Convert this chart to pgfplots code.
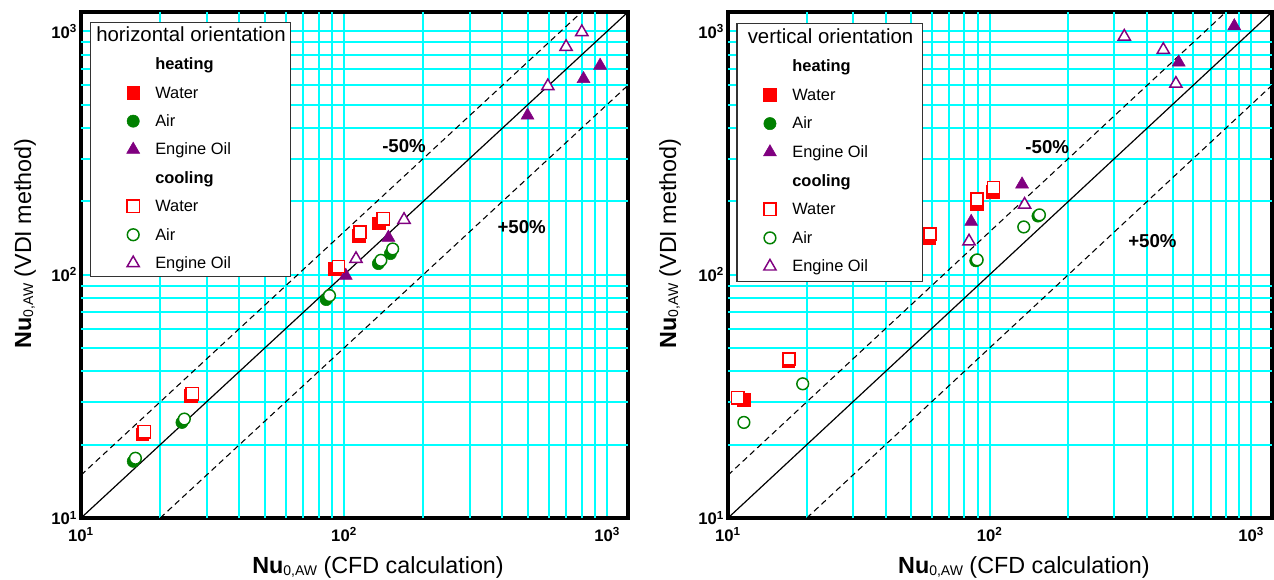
\documentclass[border=0pt]{standalone}
\usepackage{pgfplots}
\pgfplotsset{compat=1.18}
\usepackage{fontspec}
\setmainfont{Liberation Sans}
\definecolor{gridc}{RGB}{0,255,255}
\definecolor{wred}{RGB}{255,0,0}
\definecolor{agreen}{RGB}{0,128,0}
\definecolor{opurple}{RGB}{128,0,128}

\tikzset{
  mWH/.style={mark=square*, mark size=4.8pt, mark options={solid, draw=wred, fill=wred, line width=0.4pt}},
  mWC/.style={mark=square*, mark size=4.6pt, mark options={solid, draw=wred, fill=white, line width=1.1pt}},
  mAH/.style={mark=*, mark size=4.6pt, mark options={solid, draw=agreen, fill=agreen, line width=0.4pt}},
  mAC/.style={mark=*, mark size=4.4pt, mark options={solid, draw=agreen, fill=white, line width=1.1pt}},
  mOH/.style={mark=triangle*, mark size=5.6pt, mark options={solid, draw=opurple, fill=opurple, line width=0.4pt}},
  mOC/.style={mark=triangle*, mark size=5.3pt, mark options={solid, draw=opurple, fill=white, line width=1.1pt}},
}

\begin{document}
\begin{tikzpicture}
\useasboundingbox (0,0) rectangle (955.5pt,434.25pt);

% ---------------- left: horizontal orientation ----------------
\begin{axis}[
  at={(60.75pt,45.75pt)}, anchor=south west,
  xmode=log, ymode=log, scale only axis,
  width=410.25pt, height=379.5pt,
  xmin=10, xmax=1200, ymin=10, ymax=1200,
  xtick={10,100,1000}, ytick={10,100,1000},
  xticklabels={\textbf{10\textsuperscript{1}},\textbf{10\textsuperscript{2}},\textbf{10\textsuperscript{3}}},
  yticklabels={\textbf{10\textsuperscript{1}},\textbf{10\textsuperscript{2}},\textbf{10\textsuperscript{3}}},
  minor xtick={}, minor ytick={},
  extra x ticks={20,30,40,50,60,70,80,90,200,300,400,500,600,700,800,900},
  extra y ticks={20,30,40,50,60,70,80,90,200,300,400,500,600,700,800,900},
  extra x tick labels={}, extra y tick labels={},
  extra tick style={grid=major, major grid style={draw=gridc, line width=1.5pt}, major tick length=0pt},
  grid=major,
  major grid style={draw=gridc, line width=1.5pt},
  major tick length=0pt, minor tick length=0pt,
  axis line style={line width=2.6pt},
  tick label style={font=\fontsize{12.5}{14}\selectfont},
  xticklabel style={anchor=north, inner sep=0pt, yshift=-6.75pt},
  yticklabel style={anchor=east, inner sep=0pt, xshift=-2.8pt},
  every axis x label/.style={at={(axis description cs:0.543,-0.109)}, anchor=base, font=\fontsize{17.5}{20}\selectfont},
  every axis y label/.style={at={(axis description cs:-0.0914,0.5425)}, anchor=base, rotate=90, font=\fontsize{17.5}{20}\selectfont},
  xlabel={\textbf{Nu}\raisebox{-1.5pt}{\fontsize{10.5}{12}\selectfont 0,AW} (CFD calculation)},
  ylabel={\textbf{Nu}\raisebox{-1.5pt}{\fontsize{10.5}{12}\selectfont 0,AW} (VDI method)},
  legend cell align=left,
  legend style={at={(axis description cs:0.01645,0.9802)}, anchor=north west,
    draw=black!80, line width=0.9pt, fill=white,
    inner xsep=3.4pt, inner ysep=4pt, column sep=10.1pt, row sep=9.3pt,
    nodes={inner sep=0pt, text height=10pt, text depth=2pt},
    font=\fontsize{12.3}{14}\selectfont},
]
\addlegendimage{empty legend}
\addlegendentry{\hspace*{-44.25pt}\fontsize{15.3}{18}\selectfont horizontal orientation}
\addlegendimage{empty legend}
\addlegendentry{\textbf{heating}}
\addlegendimage{legend image code/.code={\path (-28.1pt,0pt) (6pt,0pt); \draw[mWH] plot coordinates {(0pt,0pt)};}}
\addlegendentry{Water}
\addlegendimage{legend image code/.code={\path (-28.1pt,0pt) (6pt,0pt); \draw[mAH] plot coordinates {(0pt,0pt)};}}
\addlegendentry{Air}
\addlegendimage{legend image code/.code={\path (-28.1pt,0pt) (6pt,0pt); \draw[mOH] plot coordinates {(0pt,0pt)};}}
\addlegendentry{Engine Oil}
\addlegendimage{empty legend}
\addlegendentry{\textbf{cooling}}
\addlegendimage{legend image code/.code={\path (-28.1pt,0pt) (6pt,0pt); \draw[mWC] plot coordinates {(0pt,0pt)};}}
\addlegendentry{Water}
\addlegendimage{legend image code/.code={\path (-28.1pt,0pt) (6pt,0pt); \draw[mAC] plot coordinates {(0pt,0pt)};}}
\addlegendentry{Air}
\addlegendimage{legend image code/.code={\path (-28.1pt,0pt) (6pt,0pt); \draw[mOC] plot coordinates {(0pt,0pt)};}}
\addlegendentry{Engine Oil}

\addplot[black, line width=0.9pt, forget plot] coordinates {(10,10) (1200,1200)};
\addplot[black, line width=0.8pt, dash pattern=on 4.5pt off 3pt, forget plot] coordinates {(10,15) (800,1200)};
\addplot[black, line width=0.8pt, dash pattern=on 4.5pt off 3pt, forget plot] coordinates {(20,10) (1200,600)};

\addplot[only marks, mWH, forget plot] coordinates {(17.1,22.1) (26.1,31.8) (92.4,105.8) (113.4,144.9) (135,162.7)};
\addplot[only marks, mAH, forget plot] coordinates {(15.8,17.1) (24.2,24.7) (85.5,79) (135,111) (150,122)};
\addplot[only marks, mOH, forget plot] coordinates {(101.5,99) (147.4,142) (498,451) (813,637) (940,723)};
\addplot[only marks, mWC, forget plot] coordinates {(17.4,22.6) (26.5,32.4) (95.2,108.1) (115,149.5) (141,169.6)};
\addplot[only marks, mAC, forget plot] coordinates {(16.1,17.6) (24.7,25.5) (88,82) (138,114.5) (153,127.5)};
\addplot[only marks, mOC, forget plot] coordinates {(111,116) (169,168) (595,595) (698,863) (801,993)};

\node[font=\bfseries\fontsize{14}{16}\selectfont] at (axis cs:169,336) {-50\%};
\node[font=\bfseries\fontsize{14}{16}\selectfont] at (axis cs:473,157) {+50\%};
\end{axis}

% ---------------- right: vertical orientation ----------------
\begin{axis}[
  at={(546pt,45.75pt)}, anchor=south west,
  xmode=log, ymode=log, scale only axis,
  width=408pt, height=379.5pt,
  xmin=10, xmax=1200, ymin=10, ymax=1200,
  xtick={10,100,1000}, ytick={10,100,1000},
  xticklabels={\textbf{10\textsuperscript{1}},\textbf{10\textsuperscript{2}},\textbf{10\textsuperscript{3}}},
  yticklabels={\textbf{10\textsuperscript{1}},\textbf{10\textsuperscript{2}},\textbf{10\textsuperscript{3}}},
  minor xtick={}, minor ytick={},
  extra x ticks={20,30,40,50,60,70,80,90,200,300,400,500,600,700,800,900},
  extra y ticks={20,30,40,50,60,70,80,90,200,300,400,500,600,700,800,900},
  extra x tick labels={}, extra y tick labels={},
  extra tick style={grid=major, major grid style={draw=gridc, line width=1.5pt}, major tick length=0pt},
  grid=major,
  major grid style={draw=gridc, line width=1.5pt},
  major tick length=0pt, minor tick length=0pt,
  axis line style={line width=2.6pt},
  tick label style={font=\fontsize{12.5}{14}\selectfont},
  xticklabel style={anchor=north, inner sep=0pt, yshift=-6.75pt},
  yticklabel style={anchor=east, inner sep=0pt, xshift=-2.8pt},
  every axis x label/.style={at={(axis description cs:0.544,-0.109)}, anchor=base, font=\fontsize{17.5}{20}\selectfont},
  every axis y label/.style={at={(axis description cs:-0.0956,0.5425)}, anchor=base, rotate=90, font=\fontsize{17.5}{20}\selectfont},
  xlabel={\textbf{Nu}\raisebox{-1.5pt}{\fontsize{10.5}{12}\selectfont 0,AW} (CFD calculation)},
  ylabel={\textbf{Nu}\raisebox{-1.5pt}{\fontsize{10.5}{12}\selectfont 0,AW} (VDI method)},
  legend cell align=left,
  legend style={at={(axis description cs:0.0156,0.979)}, anchor=north west,
    draw=black!80, line width=0.9pt, fill=white,
    inner xsep=7.1pt, inner ysep=5pt, column sep=10.35pt, row sep=9.43pt,
    nodes={inner sep=0pt, text height=10pt, text depth=2pt},
    font=\fontsize{12.3}{14}\selectfont},
]
\addlegendimage{empty legend}
\addlegendentry{\hspace*{-33.45pt}\fontsize{15.3}{18}\selectfont vertical orientation}
\addlegendimage{empty legend}
\addlegendentry{\textbf{heating}}
\addlegendimage{legend image code/.code={\path (-17.1pt,0pt) (6pt,0pt); \draw[mWH] plot coordinates {(0pt,0pt)};}}
\addlegendentry{Water}
\addlegendimage{legend image code/.code={\path (-17.1pt,0pt) (6pt,0pt); \draw[mAH] plot coordinates {(0pt,0pt)};}}
\addlegendentry{Air}
\addlegendimage{legend image code/.code={\path (-17.1pt,0pt) (6pt,0pt); \draw[mOH] plot coordinates {(0pt,0pt)};}}
\addlegendentry{Engine Oil}
\addlegendimage{empty legend}
\addlegendentry{\textbf{cooling}}
\addlegendimage{legend image code/.code={\path (-17.1pt,0pt) (6pt,0pt); \draw[mWC] plot coordinates {(0pt,0pt)};}}
\addlegendentry{Water}
\addlegendimage{legend image code/.code={\path (-17.1pt,0pt) (6pt,0pt); \draw[mAC] plot coordinates {(0pt,0pt)};}}
\addlegendentry{Air}
\addlegendimage{legend image code/.code={\path (-17.1pt,0pt) (6pt,0pt); \draw[mOC] plot coordinates {(0pt,0pt)};}}
\addlegendentry{Engine Oil}

\addplot[black, line width=0.9pt, forget plot] coordinates {(10,10) (1200,1200)};
\addplot[black, line width=0.8pt, dash pattern=on 4.5pt off 3pt, forget plot] coordinates {(10,15) (800,1200)};
\addplot[black, line width=0.8pt, dash pattern=on 4.5pt off 3pt, forget plot] coordinates {(20,10) (1200,600)};

\addplot[only marks, mWH, forget plot] coordinates {(11.5,30.7) (17.0,44.3) (58.5,141) (89,196) (103,219)};
\addplot[only marks, mAH, forget plot] coordinates {(88.5,114) (153,174)};
\addplot[only marks, mOH, forget plot] coordinates {(85,165) (133,235) (528,745) (861,1050)};
\addplot[only marks, mWC, forget plot] coordinates {(10.9,31.2) (17.1,45) (59.2,147) (89.5,204) (103.5,228)};
\addplot[only marks, mAC, forget plot] coordinates {(11.5,24.7) (19.3,35.6) (89.6,115) (135,157) (155,176)};
\addplot[only marks, mOC, forget plot] coordinates {(83.4,137) (136,194) (327,951) (461,839) (515,609)};

\node[font=\bfseries\fontsize{14}{16}\selectfont] at (axis cs:166,333) {-50\%};
\node[font=\bfseries\fontsize{14}{16}\selectfont] at (axis cs:419,138) {+50\%};
\end{axis}
\end{tikzpicture}
\end{document}
